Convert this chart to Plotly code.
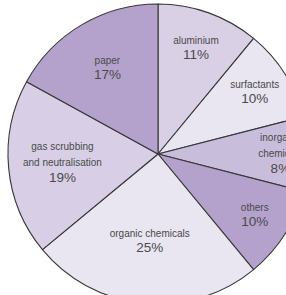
import plotly.graph_objects as go

labels = ["aluminium", "surfactants", "inorganic<br>chemicals", "others",
          "organic chemicals", "gas scrubbing<br>and neutralisation", "paper"]
values = [11, 10, 8, 10, 25, 19, 17]
colors = ["#d9d0e6", "#e9e5f1", "#c9bddc", "#b4a2cc", "#e9e5f1", "#d8cfe6", "#b4a2cc"]

fig = go.Figure(go.Pie(
    labels=labels,
    values=values,
    sort=False,
    direction="clockwise",
    rotation=0,
    marker=dict(colors=colors, line=dict(color="#383838", width=1.1)),
    texttemplate="<span style='font-size:10px'>%{label}</span><br><span style='font-size:13.5px'>%{value}%</span>",
    textposition="inside",
    insidetextorientation="horizontal",
    textfont=dict(family="Liberation Sans, Arial, sans-serif", size=12, color="#4a4a4a"),
    showlegend=False,
    hoverinfo="label+value",
))

fig.update_layout(
    width=316, height=308,
    margin=dict(l=8, r=8, t=4, b=4),
    paper_bgcolor="white",
    plot_bgcolor="white",
)

fig.write_html("out.html", config={"displayModeBar": False},
               post_script="document.body.style.margin='0';document.body.style.overflow='hidden';document.documentElement.style.overflow='hidden';")
